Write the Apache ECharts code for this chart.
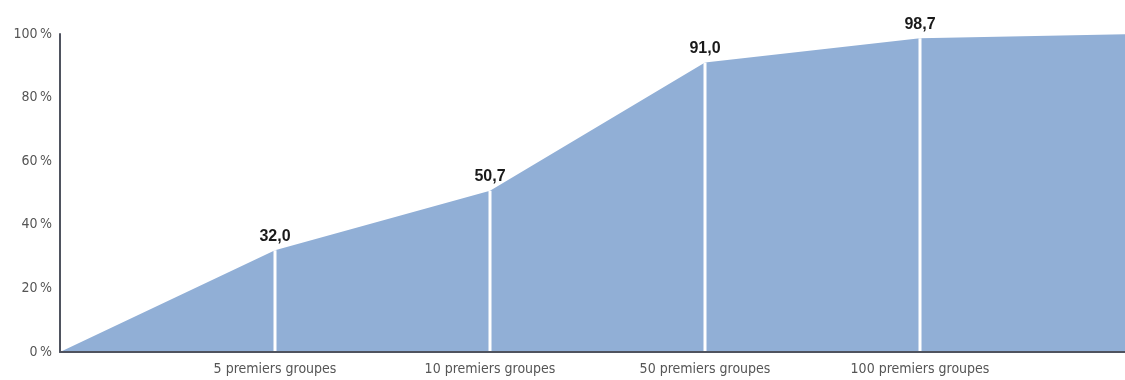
<!DOCTYPE html>
<html>
<head>
<meta charset="utf-8">
<script src="https://cdn.jsdelivr.net/npm/echarts@6/dist/echarts.min.js"></script>
<style>
html,body{margin:0;padding:0;background:#fff;}
#chart{width:1125px;height:380px;}
</style>
</head>
<body>
<div id="chart"></div>
<script>
const categories = ['', '5 premiers groupes', '10 premiers groupes', '50 premiers groupes', '100 premiers groupes', ''];
const cumulativeShare = [0, 32.0, 50.7, 91.0, 98.7, 100];
const dividerValues = [null, 32.0, 50.7, 91.0, 98.7, null];
const yTicks = [0, 20, 40, 60, 80, 100];

const chart = echarts.init(document.getElementById('chart'), null, {renderer: 'canvas'});
const labelFont = "'DejaVu Sans Condensed', 'Liberation Sans', sans-serif";

chart.setOption({
  animation: false,
  grid: {left: 60, width: 1075, top: 34, height: 318, containLabel: false, outerBoundsMode: 'none'},
  xAxis: {
    type: 'category',
    data: categories,
    boundaryGap: false,
    axisLine: {show: true, lineStyle: {color: '#4f535f', width: 2}},
    axisTick: {show: false},
    axisLabel: {
      interval: 0, margin: 10,
      color: '#555', fontFamily: labelFont, fontSize: 14
    },
    splitLine: {show: false},
    z: 10
  },
  yAxis: {
    type: 'value',
    min: yTicks[0], max: yTicks[yTicks.length - 1], interval: 20,
    axisLine: {show: true, lineStyle: {color: '#4f535f', width: 2}},
    axisTick: {show: false},
    splitLine: {show: false},
    axisLabel: {
      margin: 8,
      color: '#555', fontFamily: labelFont, fontSize: 14,
      formatter: v => v + '\u2009%'
    },
    z: 10
  },
  series: [
    {
      type: 'line',
      data: cumulativeShare,
      symbol: 'none',
      lineStyle: {width: 0},
      areaStyle: {color: '#91afd6', opacity: 1},
      z: 2
    },
    {
      type: 'bar',
      data: dividerValues,
      barWidth: 3,
      itemStyle: {color: '#ffffff'},
      label: {
        show: true,
        position: 'top',
        distance: 6,
        color: '#1a1a1a',
        fontFamily: 'Liberation Sans',
        fontWeight: 'bold',
        fontSize: 16,
        formatter: p => p.value == null ? '' : p.value.toFixed(1).replace('.', ',')
      },
      z: 3
    }
  ]
});
</script>
</body>
</html>
